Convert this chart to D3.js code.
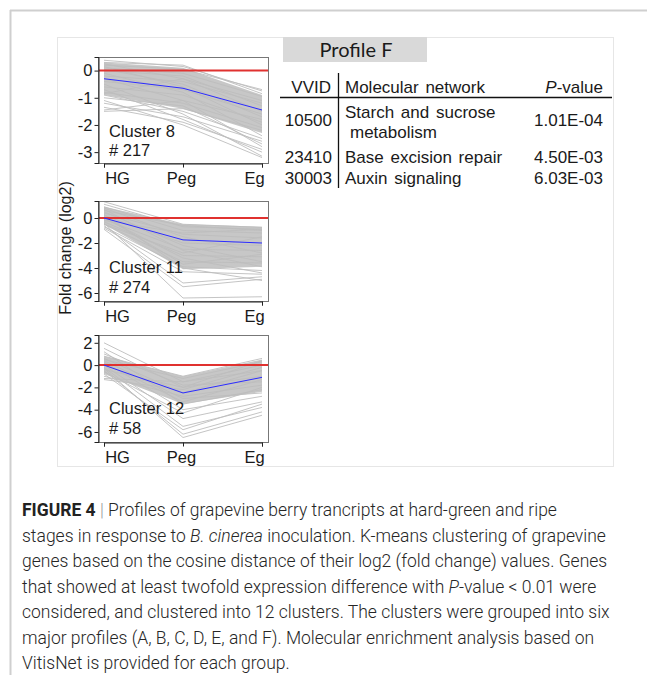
<!DOCTYPE html>
<html>
<head>
<meta charset="utf-8">
<script src="https://cdn.jsdelivr.net/npm/d3@7"></script>
<style>
  body { margin: 0; background: #fff; }
  svg { display: block; }
</style>
</head>
<body>
<div id="figure"></div>
<script>
// stages on the x axis
const stages = ['HG', 'Peg', 'Eg'];

const clusterNames = ['Cluster 8', 'Cluster 11', 'Cluster 12'];
const clusterCounts = ['# 217', '# 274', '# 58'];
const yTicks = [[0, -1, -2, -3], [0, -2, -4, -6], [2, 0, -2, -4, -6]];
const yDomains = [[-3.4, 0.5], [-6.64, 1.36], [-6.9, 2.7]];

// centroid (blue) per cluster: HG, Peg, Eg
const meanValues = [[-0.3, -0.65, -1.45], [0, -1.75, -2.0], [0, -2.5, -1.1]];

// dense grey envelope
const bandUpper = [[0.3, 0.1, -0.9], [0.9, -0.5, -0.7], [0.8, -1.0, 0.5]];
const bandLower = [[-0.9, -1.4, -2.3], [-0.5, -4.1, -3.9], [-0.8, -3.5, -2.4]];

// individual gene profiles that stand out of the envelope
const genes8 = [
  [0.38, 0.15, -0.75], [0.3, 0.2, -0.85], [0.2, 0.05, -0.7], [0.1, -0.1, -0.95],
  [0.25, -0.3, -1.1], [0.0, -0.2, -1.3], [-0.2, -0.4, -1.2], [-0.4, -0.7, -1.6],
  [-0.6, -0.9, -1.9], [-0.8, -1.2, -2.1], [-0.9, -1.5, -2.5], [-1.0, -1.3, -2.7],
  [-1.2, -1.7, -2.6], [-1.35, -1.9, -2.9], [-1.5, -1.4, -2.2], [-0.7, -1.8, -3.0],
  [-0.5, -1.6, -3.15], [-1.1, -2.0, -3.2], [-0.3, -1.1, -2.8], [0.15, -0.6, -2.0],
  [-0.1, -0.8, -2.4], [0.05, -0.5, -1.7], [-1.45, -1.1, -1.8], [-0.85, -0.3, -1.5]
];
const genes11 = [
  [1.3, -0.5, -0.75], [1.1, -0.7, -0.9], [0.9, -1.0, -1.2], [0.6, -0.6, -1.0],
  [0.4, -1.3, -1.6], [0.2, -2.0, -2.2], [-0.1, -2.5, -2.6], [-0.3, -3.0, -3.1],
  [-0.5, -3.5, -3.6], [-0.7, -3.9, -4.2], [-0.8, -4.3, -4.5], [-0.6, -5.2, -4.7],
  [-0.9, -5.5, -4.9], [-0.4, -6.4, -6.3], [0.3, -4.0, -5.0], [0.0, -3.2, -4.4],
  [0.5, -2.2, -3.5], [0.8, -1.5, -2.8], [-0.2, -1.2, -0.9], [0.1, -3.7, -2.9],
  [-0.5, -2.8, -1.5], [0.7, -2.6, -3.9]
];
const genes12 = [
  [2.0, -1.5, -0.5], [1.5, -2.0, -1.0], [1.2, -3.5, -2.2], [0.8, -1.0, 0.6],
  [0.5, -1.2, 0.3], [0.3, -4.0, -2.8], [0.0, -4.8, -3.3], [-0.2, -5.5, -3.8],
  [-0.5, -6.2, -4.2], [-0.3, -6.5, -4.5], [-0.8, -5.8, -3.5], [-1.0, -2.8, -1.8],
  [-1.3, -2.2, -0.2], [-1.2, -1.5, 0.0], [0.4, -3.0, -2.5], [0.6, -2.5, -0.5],
  [-0.6, -4.3, -2.0], [1.0, -1.8, -1.5], [0.2, -3.3, -1.3], [-0.4, -2.0, 0.4]
];
const geneLines = [genes8, genes11, genes12];

// enrichment table
const tableHeader = ['VVID', 'Molecular network', 'P-value'];
const vvids = ['10500', '23410', '30003'];
const networks = [['Starch and sucrose', 'metabolism'], ['Base excision repair'], ['Auxin signaling']];
const pValues = ['1.01E-04', '4.50E-03', '6.03E-03'];

const captionLines = [
  [['FIGURE 4', 'b'], [' | ', 'sep'], ['Profiles of grapevine berry trancripts at hard-green and ripe', '']],
  [['stages in response to ', ''], ['B. cinerea', 'i'], [' inoculation. K-means clustering of grapevine', '']],
  [['genes based on the cosine distance of their log2 (fold change) values. Genes', '']],
  [['that showed at least twofold expression difference with ', ''], ['P', 'i'], ['-value < 0.01 were', '']],
  [['considered, and clustered into 12 clusters. The clusters were grouped into six', '']],
  [['major profiles (A, B, C, D, E, and F). Molecular enrichment analysis based on', '']],
  [['VitisNet is provided for each group.', '']]
];

const width = 647;
const height = 685;
const font = '"Liberation Sans", Arial, sans-serif';

const svg = d3.select('#figure').append('svg')
  .attr('width', width)
  .attr('height', height)
  .style('font-family', font);

// page borders
svg.append('line').attr('x1', 10).attr('x2', width).attr('y1', 10.5).attr('y2', 10.5)
  .attr('stroke', '#cfcfcf').attr('stroke-width', 2);
svg.append('line').attr('x1', 10.5).attr('x2', 10.5).attr('y1', 10).attr('y2', 675)
  .attr('stroke', '#cfcfcf').attr('stroke-width', 2);
svg.append('rect').attr('x', 57.5).attr('y', 37.5).attr('width', 556).attr('height', 429)
  .attr('fill', 'none').attr('stroke', '#e6e6e6');

// panels
const plotLeft = 98;
const plotRight = 268;
const panelTops = [57, 201, 335];
const panelBottoms = [163, 301, 442];
// category labels sit off their ticks in the original
const labelShift = { HG: 13, Peg: -2, Eg: -8 };

const xScale = d3.scalePoint()
  .domain(stages)
  .range([plotLeft + 6, plotRight - 6]);

clusterNames.forEach((name, i) => {
  const top = panelTops[i];
  const bottom = panelBottoms[i];
  const yScale = d3.scaleLinear().domain(yDomains[i]).range([bottom, top]);
  const g = svg.append('g');

  g.append('clipPath').attr('id', 'clip' + i)
    .append('rect').attr('x', plotLeft).attr('y', top)
    .attr('width', plotRight - plotLeft).attr('height', bottom - top);

  const plot = g.append('g').attr('clip-path', `url(#clip${i})`);

  const line = d3.line()
    .x((d, j) => xScale(stages[j]))
    .y(d => yScale(d));

  const area = d3.area()
    .x(d => xScale(d.stage))
    .y0(d => yScale(d.lo))
    .y1(d => yScale(d.hi));

  const band = stages.map((s, j) => ({ stage: s, lo: bandLower[i][j], hi: bandUpper[i][j] }));

  plot.append('path')
    .attr('d', area(band))
    .attr('fill', '#c7c7c7');

  plot.selectAll('.gene')
    .data(geneLines[i])
    .enter()
    .append('path')
    .attr('class', 'gene')
    .attr('d', line)
    .attr('fill', 'none')
    .attr('stroke', '#bdbdbd')
    .attr('stroke-width', 0.9);

  plot.append('line')
    .attr('x1', plotLeft).attr('x2', plotRight)
    .attr('y1', yScale(0)).attr('y2', yScale(0))
    .attr('stroke', '#e0312f').attr('stroke-width', 2);

  plot.append('path')
    .attr('d', line(meanValues[i]))
    .attr('fill', 'none')
    .attr('stroke', '#2b2bff')
    .attr('stroke-width', 1);

  // frame
  g.append('rect')
    .attr('x', plotLeft + 0.5).attr('y', top + 0.5)
    .attr('width', plotRight - plotLeft).attr('height', bottom - top)
    .attr('fill', 'none').attr('stroke', '#777');

  const yAxis = g.append('g')
    .attr('transform', `translate(${plotLeft + 0.5},0)`)
    .call(d3.axisLeft(yScale).tickValues(yTicks[i]).tickSize(4).tickPadding(2)
      .tickFormat(d => String(d)));

  const xAxis = g.append('g')
    .attr('transform', `translate(0,${bottom + 0.5})`)
    .call(d3.axisBottom(xScale).tickSize(4).tickPadding(5));

  xAxis.selectAll('.tick text').attr('dx', d => labelShift[d]);

  [yAxis, xAxis].forEach(ax => {
    ax.select('.domain').attr('stroke', '#222');
    ax.selectAll('.tick line').attr('stroke', '#222');
    ax.selectAll('.tick text')
      .attr('fill', '#1a1a1a')
      .style('font-size', '16.5px')
      .style('font-family', font);
  });

  g.append('text')
    .attr('x', plotLeft + 11)
    .attr('y', [137, 273, 414][i])
    .attr('fill', '#1a1a1a')
    .style('font-size', '16.5px')
    .text(name);

  g.append('text')
    .attr('x', plotLeft + 11)
    .attr('y', [156, 293, 434][i])
    .attr('fill', '#1a1a1a')
    .style('font-size', '16.5px')
    .text(clusterCounts[i]);
});

svg.append('text')
  .attr('transform', 'translate(71, 248) rotate(-90)')
  .attr('text-anchor', 'middle')
  .attr('fill', '#1a1a1a')
  .style('font-size', '16px')
  .text('Fold change (log2)');

// Profile F table
svg.append('rect')
  .attr('x', 283).attr('y', 37).attr('width', 144).attr('height', 25)
  .attr('fill', '#d9d9d9');
svg.append('text')
  .attr('x', 356).attr('y', 57)
  .attr('text-anchor', 'middle')
  .attr('fill', '#1a1a1a')
  .style('font-family', 'Lato, "Open Sans", sans-serif')
  .style('font-size', '20px')
  .text('Profile F');

const table = svg.append('g')
  .attr('fill', '#1a1a1a')
  .style('font-size', '17px');

table.append('line').attr('x1', 280).attr('x2', 612).attr('y1', 97.5).attr('y2', 97.5)
  .attr('stroke', '#111').attr('stroke-width', 1.3);
table.append('line').attr('x1', 338.5).attr('x2', 338.5).attr('y1', 73).attr('y2', 188)
  .attr('stroke', '#111').attr('stroke-width', 1.3);

table.append('text').attr('x', 331).attr('y', 93).attr('text-anchor', 'end').text(tableHeader[0]);
table.append('text').attr('x', 345).attr('y', 93).style('word-spacing', '2px').text(tableHeader[1]);
const pHead = table.append('text').attr('x', 603).attr('y', 93).attr('text-anchor', 'end');
pHead.append('tspan').style('font-style', 'italic').text('P');
pHead.append('tspan').text(tableHeader[2].slice(1));

const rowY = [126, 163, 184];
vvids.forEach((id, i) => {
  table.append('text').attr('x', 332).attr('y', rowY[i]).attr('text-anchor', 'end').text(id);
  table.append('text').attr('x', 603).attr('y', rowY[i]).attr('text-anchor', 'end').text(pValues[i]);
  if (networks[i].length === 2) {
    table.append('text').attr('x', 345).attr('y', rowY[i] - 8).style('word-spacing', '2px').text(networks[i][0]);
    table.append('text').attr('x', 350).attr('y', rowY[i] + 12).text(networks[i][1]);
  } else {
    table.append('text').attr('x', 345).attr('y', rowY[i]).style('word-spacing', '2px').text(networks[i][0]);
  }
});

// caption
const caption = svg.append('g')
  .style('font-family', 'Roboto, "Liberation Sans", sans-serif')
  .style('font-size', '17.5px')
  .style('font-weight', 300)
  .attr('fill', '#262626');

captionLines.forEach((parts, i) => {
  const t = caption.append('text')
    .attr('x', 22)
    .attr('y', 516 + i * 25.5);
  parts.forEach(([str, kind]) => {
    const span = t.append('tspan').text(str);
    if (kind === 'b') span.style('font-weight', 700).attr('fill', '#222');
    if (kind === 'i') span.style('font-style', 'italic');
    if (kind === 'sep') span.attr('fill', '#999');
  });
});
</script>
</body>
</html>
